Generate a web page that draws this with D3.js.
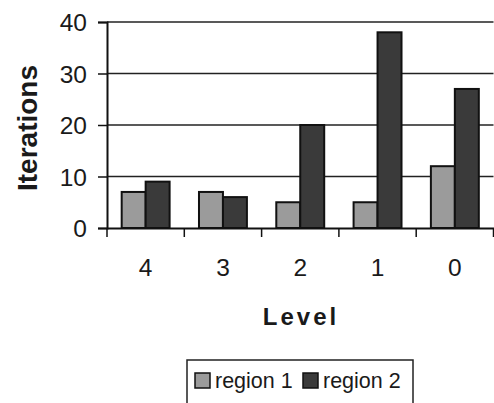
<!DOCTYPE html>
<html><head><meta charset="utf-8">
<script src="https://cdn.jsdelivr.net/npm/d3@7"></script>
<style>body{margin:0;background:#fff}svg{display:block}text{font-family:Arial,"Liberation Sans",sans-serif}</style>
</head><body>
<svg id="c" width="494" height="403"></svg>
<script>
const categories = ["4","3","2","1","0"];
const seriesNames = ["region 1","region 2"];
const region1 = [7,7,5,5,12];
const region2 = [9,6,20,38,27];
const yTicks = [0,10,20,30,40];
const colors = ["#9b9b9b","#3a3a3a"];

const svg = d3.select("#c");
const pLeft = 107, pRight = 493.5, pTop = 22, pBottom = 228;
const x = d3.scaleBand().domain(categories).range([pLeft, pRight]).paddingInner(0.38).paddingOuter(0.19);
const x1 = d3.scaleBand().domain(seriesNames).range([0, x.bandwidth()]);
const y = d3.scaleLinear().domain([0,40]).range([pBottom, pTop]);

// gridlines
svg.append("g").selectAll("line").data(yTicks.filter(d=>d>0)).join("line")
  .attr("x1", pLeft).attr("x2", pRight).attr("y1", d=>y(d)).attr("y2", d=>y(d))
  .attr("stroke", "#222").attr("stroke-width", 1.5);

// y axis
const ya = svg.append("g").attr("transform", `translate(${pLeft},0)`)
  .call(d3.axisLeft(y).tickValues(yTicks).tickSize(9).tickPadding(11));
ya.select(".domain").attr("stroke","#111").attr("stroke-width",2);
ya.selectAll(".tick line").attr("stroke","#111").attr("stroke-width",1.5);
ya.selectAll("text").attr("font-size","24.5px").attr("fill","#1a1a1a").attr("dy","0.36em");

// bars
const data = categories.map((c,i)=>({c, vals:[region1[i], region2[i]]}));
const g = svg.append("g");
data.forEach(d=>{
  d.vals.forEach((v,j)=>{
    g.append("rect")
      .attr("x", x(d.c)+x1(seriesNames[j]))
      .attr("y", y(v))
      .attr("width", x1.bandwidth())
      .attr("height", y(0)-y(v))
      .attr("fill", colors[j]).attr("stroke","#111").attr("stroke-width",2);
  });
});

// x axis
const xa = svg.append("g").attr("transform", `translate(0,${pBottom})`)
  .call(d3.axisBottom(x).tickSize(0).tickPadding(31));
xa.select(".domain").attr("stroke","#111").attr("stroke-width",2);
xa.selectAll("text").attr("font-size","24.5px").attr("fill","#1a1a1a");
// category boundary ticks
const bounds = categories.map(c=>x(c)-x.step()*x.paddingInner()/2).concat([pRight]);
svg.append("g").selectAll("line").data(bounds).join("line")
  .attr("x1", d=>d).attr("x2", d=>d).attr("y1", pBottom).attr("y2", pBottom+9)
  .attr("stroke","#111").attr("stroke-width",1.5);

// axis titles
svg.append("text").attr("transform","translate(37,128) rotate(-90)")
  .attr("text-anchor","middle").attr("font-size","28px").attr("font-weight","bold").attr("fill","#1a1a1a")
  .text("Iterations");
svg.append("text").attr("x",301).attr("y",325).attr("text-anchor","middle")
  .attr("font-size","24px").attr("font-weight","bold").attr("letter-spacing","3px").attr("fill","#1a1a1a")
  .text("Level");

// legend
const lg = svg.append("g");
lg.append("rect").attr("x",187).attr("y",360).attr("width",226).attr("height",46)
  .attr("fill","#fff").attr("stroke","#222").attr("stroke-width",1.5);
const lx = [195, 303];
seriesNames.forEach((s,j)=>{
  lg.append("rect").attr("x",lx[j]).attr("y",373).attr("width",15).attr("height",15)
    .attr("fill",colors[j]).attr("stroke","#111").attr("stroke-width",1.5);
  lg.append("text").attr("x",lx[j]+20).attr("y",388).attr("font-size","21.5px").attr("fill","#1a1a1a").text(s);
});
</script>
</body></html>
